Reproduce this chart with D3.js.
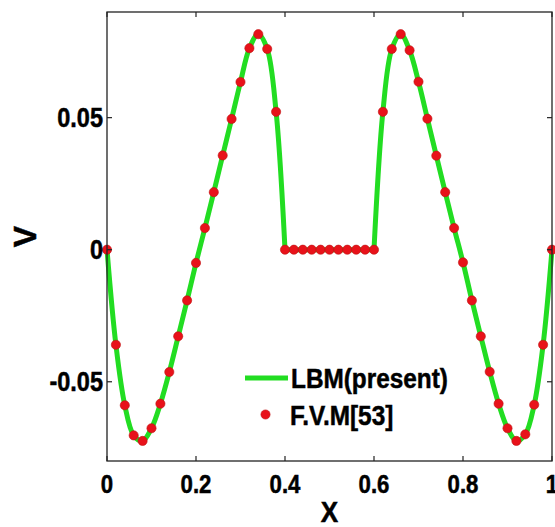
<!DOCTYPE html>
<html>
<head>
<meta charset="utf-8">
<script src="https://cdn.jsdelivr.net/npm/d3@7"></script>
<style>
  html, body { margin: 0; padding: 0; background: #fff; }
  svg { display: block; }
  text { font-family: "Liberation Sans", Arial, sans-serif; font-weight: bold; fill: #000; stroke: #000; stroke-width: 0.5px; }
</style>
</head>
<body>
<svg id="chart" width="555" height="527"></svg>
<script>
// ---- data ----
const xValues = [0.00,0.02,0.04,0.06,0.08,0.10,0.12,0.14,0.16,0.18,
                 0.20,0.22,0.24,0.26,0.28,0.30,0.32,0.34,0.36,0.38,
                 0.40,0.42,0.44,0.46,0.48,0.50,0.52,0.54,0.56,0.58,
                 0.60,0.62,0.64,0.66,0.68,0.70,0.72,0.74,0.76,0.78,
                 0.80,0.82,0.84,0.86,0.88,0.90,0.92,0.94,0.96,0.98,1.00];
const fvmV = [0,-0.0360,-0.0589,-0.0703,-0.0724,-0.0676,-0.0583,-0.0463,-0.0328,-0.0192,
              -0.0050,0.0082,0.0218,0.0357,0.0495,0.0635,0.0763,0.0816,0.0760,0.0522,
              0,0,0,0,0,0,0,0,0,0,
              0,0.0522,0.0760,0.0816,0.0755,0.0636,0.0496,0.0356,0.0218,0.0082,
              -0.0048,-0.0192,-0.0328,-0.0462,-0.0583,-0.0676,-0.0724,-0.0699,-0.0587,-0.0360,0];
// LBM curve passes through the same sampled values
const lbmX = xValues.slice();
const lbmV = fvmV.slice();
const xTicks = [0, 0.2, 0.4, 0.6, 0.8, 1];
const xTickLabels = ["0", "0.2", "0.4", "0.6", "0.8", "1"];
const yTicks = [-0.05, 0, 0.05];
const yTickLabels = ["-0.05", "0", "0.05"];
const legendLabels = ["LBM(present)", "F.V.M[53]"];

// ---- layout ----
const L = 107, R = 552, T = 12, B = 461;
const SX = 0.87;
const svg = d3.select("#chart");
const x = d3.scaleLinear().domain([0, 1]).range([L, R]);
const y = d3.scaleLinear().domain([-0.08, 0.09]).range([B, T]);

function label(g, tx, ty, str, size, anchor, extra) {
  return g.append("text")
    .attr("transform", `translate(${tx},${ty}) ${extra || ""} scale(${SX},1)`)
    .attr("text-anchor", anchor)
    .style("font-size", size + "px")
    .text(str);
}

// ---- line (LBM) in three pieces: left, flat, right ----
const lbm = lbmX.map((d, i) => ({x: d, v: lbmV[i]}));
const pieces = [
  lbm.filter(d => d.x <= 0.4001),
  lbm.filter(d => d.x >= 0.3999 && d.x <= 0.6001),
  lbm.filter(d => d.x >= 0.5999)
];
const line = d3.line().x(d => x(d.x)).y(d => y(d.v)).curve(d3.curveCatmullRom.alpha(0.5));
svg.append("g").selectAll("path").data(pieces).join("path")
  .attr("d", line)
  .attr("fill", "none")
  .attr("stroke", "#22dd22")
  .attr("stroke-width", 5)
  .attr("stroke-linejoin", "round");

// ---- points (F.V.M) ----
svg.append("g").selectAll("circle").data(xValues.map((d, i) => ({x: d, v: fvmV[i]}))).join("circle")
  .attr("cx", d => x(d.x))
  .attr("cy", d => y(d.v))
  .attr("r", 4.6)
  .attr("fill", "#e8121a")
  .attr("stroke", "#c01010")
  .attr("stroke-width", 0.6);

// ---- axes box with inward ticks ----
const ax = svg.append("g");
ax.append("rect").attr("x", L).attr("y", T).attr("width", R - L).attr("height", B - T)
  .attr("fill", "none").attr("stroke", "#222").attr("stroke-width", 1.3);

const tl = 5;
xTicks.forEach(t => {
  ax.append("line").attr("x1", x(t)).attr("x2", x(t)).attr("y1", B).attr("y2", B - tl).attr("stroke", "#222").attr("stroke-width", 1.2);
  ax.append("line").attr("x1", x(t)).attr("x2", x(t)).attr("y1", T).attr("y2", T + tl).attr("stroke", "#222").attr("stroke-width", 1.2);
});
yTicks.forEach(t => {
  ax.append("line").attr("x1", L).attr("x2", L + tl).attr("y1", y(t)).attr("y2", y(t)).attr("stroke", "#222").attr("stroke-width", 1.2);
  ax.append("line").attr("x1", R).attr("x2", R - tl).attr("y1", y(t)).attr("y2", y(t)).attr("stroke", "#222").attr("stroke-width", 1.2);
});

// tick labels
xTicks.forEach((t, i) => label(ax, x(t), 492.5, xTickLabels[i], 25.5, "middle"));
yTicks.forEach((t, i) => label(ax, 103, y(t) + 9.5, yTickLabels[i], 27, "end"));

// axis titles
label(ax, (L + R) / 2, 522, "X", 30, "middle");
svg.append("text")
  .attr("transform", `translate(35.5,${(T + B) / 2}) rotate(-90)`)
  .attr("text-anchor", "middle")
  .style("font-size", "32px")
  .text("V");

// ---- legend ----
const lg = svg.append("g");
lg.append("line").attr("x1", 245).attr("x2", 288).attr("y1", 378).attr("y2", 378)
  .attr("stroke", "#22dd22").attr("stroke-width", 5);
label(lg, 291, 388, legendLabels[0], 28, "start");
lg.append("circle").attr("cx", 265.5).attr("cy", 414.5).attr("r", 4.6)
  .attr("fill", "#e8121a").attr("stroke", "#c01010").attr("stroke-width", 0.6);
label(lg, 290, 425, legendLabels[1], 28, "start");
</script>
</body>
</html>
